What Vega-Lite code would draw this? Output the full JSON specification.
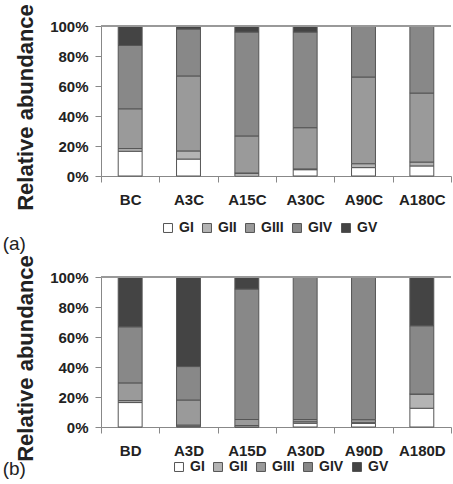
{
  "$schema": "https://vega.github.io/schema/vega-lite/v6.json",
  "background": "white",
  "padding": {"left": 2, "top": 3, "right": 0, "bottom": 0},
  "spacing": 0,
  "datasets": {
    "a": [
      {"sample": "BC", "group": "GI", "k": 1, "value": 16.5},
      {"sample": "BC", "group": "GII", "k": 2, "value": 1.8},
      {"sample": "BC", "group": "GIII", "k": 3, "value": 26.5},
      {"sample": "BC", "group": "GIV", "k": 4, "value": 42.2},
      {"sample": "BC", "group": "GV", "k": 5, "value": 13.0},
      {"sample": "A3C", "group": "GI", "k": 1, "value": 11.3},
      {"sample": "A3C", "group": "GII", "k": 2, "value": 5.4},
      {"sample": "A3C", "group": "GIII", "k": 3, "value": 50.0},
      {"sample": "A3C", "group": "GIV", "k": 4, "value": 31.3},
      {"sample": "A3C", "group": "GV", "k": 5, "value": 2.0},
      {"sample": "A15C", "group": "GI", "k": 1, "value": 1.5},
      {"sample": "A15C", "group": "GII", "k": 2, "value": 0.5},
      {"sample": "A15C", "group": "GIII", "k": 3, "value": 24.7},
      {"sample": "A15C", "group": "GIV", "k": 4, "value": 69.3},
      {"sample": "A15C", "group": "GV", "k": 5, "value": 4.0},
      {"sample": "A30C", "group": "GI", "k": 1, "value": 4.2},
      {"sample": "A30C", "group": "GII", "k": 2, "value": 0.5},
      {"sample": "A30C", "group": "GIII", "k": 3, "value": 27.5},
      {"sample": "A30C", "group": "GIV", "k": 4, "value": 63.8},
      {"sample": "A30C", "group": "GV", "k": 5, "value": 4.0},
      {"sample": "A90C", "group": "GI", "k": 1, "value": 5.6},
      {"sample": "A90C", "group": "GII", "k": 2, "value": 2.6},
      {"sample": "A90C", "group": "GIII", "k": 3, "value": 57.8},
      {"sample": "A90C", "group": "GIV", "k": 4, "value": 34.0},
      {"sample": "A90C", "group": "GV", "k": 5, "value": 0},
      {"sample": "A180C", "group": "GI", "k": 1, "value": 6.7},
      {"sample": "A180C", "group": "GII", "k": 2, "value": 2.6},
      {"sample": "A180C", "group": "GIII", "k": 3, "value": 46.0},
      {"sample": "A180C", "group": "GIV", "k": 4, "value": 44.7},
      {"sample": "A180C", "group": "GV", "k": 5, "value": 0}
    ],
    "b": [
      {"sample": "BD", "group": "GI", "k": 1, "value": 16.3},
      {"sample": "BD", "group": "GII", "k": 2, "value": 1.3},
      {"sample": "BD", "group": "GIII", "k": 3, "value": 11.8},
      {"sample": "BD", "group": "GIV", "k": 4, "value": 37.4},
      {"sample": "BD", "group": "GV", "k": 5, "value": 33.2},
      {"sample": "A3D", "group": "GI", "k": 1, "value": 0.5},
      {"sample": "A3D", "group": "GII", "k": 2, "value": 0.8},
      {"sample": "A3D", "group": "GIII", "k": 3, "value": 16.7},
      {"sample": "A3D", "group": "GIV", "k": 4, "value": 22.3},
      {"sample": "A3D", "group": "GV", "k": 5, "value": 59.7},
      {"sample": "A15D", "group": "GI", "k": 1, "value": 0},
      {"sample": "A15D", "group": "GII", "k": 2, "value": 1.0},
      {"sample": "A15D", "group": "GIII", "k": 3, "value": 4.0},
      {"sample": "A15D", "group": "GIV", "k": 4, "value": 87.0},
      {"sample": "A15D", "group": "GV", "k": 5, "value": 8.0},
      {"sample": "A30D", "group": "GI", "k": 1, "value": 2.5},
      {"sample": "A30D", "group": "GII", "k": 2, "value": 1.0},
      {"sample": "A30D", "group": "GIII", "k": 3, "value": 1.5},
      {"sample": "A30D", "group": "GIV", "k": 4, "value": 95.0},
      {"sample": "A30D", "group": "GV", "k": 5, "value": 0},
      {"sample": "A90D", "group": "GI", "k": 1, "value": 2.4},
      {"sample": "A90D", "group": "GII", "k": 2, "value": 0.5},
      {"sample": "A90D", "group": "GIII", "k": 3, "value": 2.0},
      {"sample": "A90D", "group": "GIV", "k": 4, "value": 95.1},
      {"sample": "A90D", "group": "GV", "k": 5, "value": 0},
      {"sample": "A180D", "group": "GI", "k": 1, "value": 12.5},
      {"sample": "A180D", "group": "GII", "k": 2, "value": 9.5},
      {"sample": "A180D", "group": "GIII", "k": 3, "value": 0},
      {"sample": "A180D", "group": "GIV", "k": 4, "value": 45.5},
      {"sample": "A180D", "group": "GV", "k": 5, "value": 32.5}
    ]
  },
  "vconcat": [
    {
      "width": 350,
      "height": 150,
      "title": {"text": "(a)", "orient": "bottom", "anchor": "start", "frame": "bounds", "font": "Liberation Sans", "fontSize": 19, "fontWeight": "normal", "color": "#222", "dx": -12, "offset": 0},
      "data": {"name": "a"},
      "layer": [
        {
          "mark": {"type": "bar", "stroke": "#555", "strokeWidth": 1, "width": {"band": 0.41}},
          "encoding": {
            "x": {"field": "sample", "type": "nominal", "sort": null, "scale": {"paddingInner": 0, "paddingOuter": 0},
              "axis": {"title": null, "labelAngle": 0, "tickBand": "extent", "domainColor": "#888", "tickColor": "#888", "tickSize": 6, "labelFont": "Liberation Sans", "labelFontWeight": "bold", "labelFontSize": 15, "labelPadding": 10, "labelColor": "#222"}},
            "y": {"field": "value", "type": "quantitative", "stack": "zero", "scale": {"domain": [0, 100], "nice": false},
              "axis": {"title": "Relative abundance", "titleFont": "Liberation Sans", "titleFontWeight": "bold", "titleFontSize": 22, "titlePadding": 12, "titleColor": "#222", "titleY": 81, "values": [0, 20, 40, 60, 80, 100], "tickCount": 10, "labelExpr": "datum.value + '%'", "labelOverlap": false, "labelFont": "Liberation Sans", "labelFontWeight": "bold", "labelFontSize": 15, "labelColor": "#222", "tickSize": 6, "labelPadding": 7, "domainColor": "#888", "tickColor": "#888", "grid": false}},
            "color": {"field": "group", "type": "nominal",
              "scale": {"domain": ["GI", "GII", "GIII", "GIV", "GV"], "range": ["#ffffff", "#b4b4b4", "#9a9a9a", "#888888", "#444444"]},
              "legend": {"orient": "none", "legendX": 60, "legendY": 195, "direction": "horizontal", "title": null, "symbolType": "square", "symbolSize": 80, "symbolStrokeColor": "#555", "symbolStrokeWidth": 1, "labelFont": "Liberation Sans", "labelFontWeight": "bold", "labelFontSize": 14, "labelColor": "#222", "labelOffset": 4, "columnPadding": 6}},
            "order": {"field": "k", "type": "quantitative"}
          }
        },
        {
          "mark": {"type": "rule", "color": "#999", "strokeWidth": 1},
          "encoding": {"y": {"datum": 100, "type": "quantitative"}}
        }
      ]
    },
    {
      "width": 350,
      "height": 150,
      "title": {"text": "(b)", "orient": "bottom", "anchor": "start", "frame": "bounds", "font": "Liberation Sans", "fontSize": 19, "fontWeight": "normal", "color": "#222", "dx": -12, "dy": -14, "offset": 0},
      "data": {"name": "b"},
      "layer": [
        {
          "mark": {"type": "bar", "stroke": "#555", "strokeWidth": 1, "width": {"band": 0.41}},
          "encoding": {
            "x": {"field": "sample", "type": "nominal", "sort": null, "scale": {"paddingInner": 0, "paddingOuter": 0},
              "axis": {"title": null, "labelAngle": 0, "tickBand": "extent", "domainColor": "#888", "tickColor": "#888", "tickSize": 6, "labelFont": "Liberation Sans", "labelFontWeight": "bold", "labelFontSize": 15, "labelPadding": 10, "labelColor": "#222"}},
            "y": {"field": "value", "type": "quantitative", "stack": "zero", "scale": {"domain": [0, 100], "nice": false},
              "axis": {"title": "Relative abundance", "titleFont": "Liberation Sans", "titleFontWeight": "bold", "titleFontSize": 22, "titlePadding": 12, "titleColor": "#222", "titleY": 81, "values": [0, 20, 40, 60, 80, 100], "tickCount": 10, "labelExpr": "datum.value + '%'", "labelOverlap": false, "labelFont": "Liberation Sans", "labelFontWeight": "bold", "labelFontSize": 15, "labelColor": "#222", "tickSize": 6, "labelPadding": 7, "domainColor": "#888", "tickColor": "#888", "grid": false}},
            "color": {"field": "group", "type": "nominal",
              "scale": {"domain": ["GI", "GII", "GIII", "GIV", "GV"], "range": ["#ffffff", "#b4b4b4", "#9a9a9a", "#888888", "#444444"]},
              "legend": {"orient": "none", "legendX": 71, "legendY": 183, "direction": "horizontal", "title": null, "symbolType": "square", "symbolSize": 80, "symbolStrokeColor": "#555", "symbolStrokeWidth": 1, "labelFont": "Liberation Sans", "labelFontWeight": "bold", "labelFontSize": 14, "labelColor": "#222", "labelOffset": 4, "columnPadding": 6}},
            "order": {"field": "k", "type": "quantitative"}
          }
        },
        {
          "mark": {"type": "rule", "color": "#999", "strokeWidth": 1},
          "encoding": {"y": {"datum": 100, "type": "quantitative"}}
        }
      ]
    }
  ],
  "resolve": {"scale": {"color": "independent"}},
  "config": {"view": {"stroke": null}}
}
